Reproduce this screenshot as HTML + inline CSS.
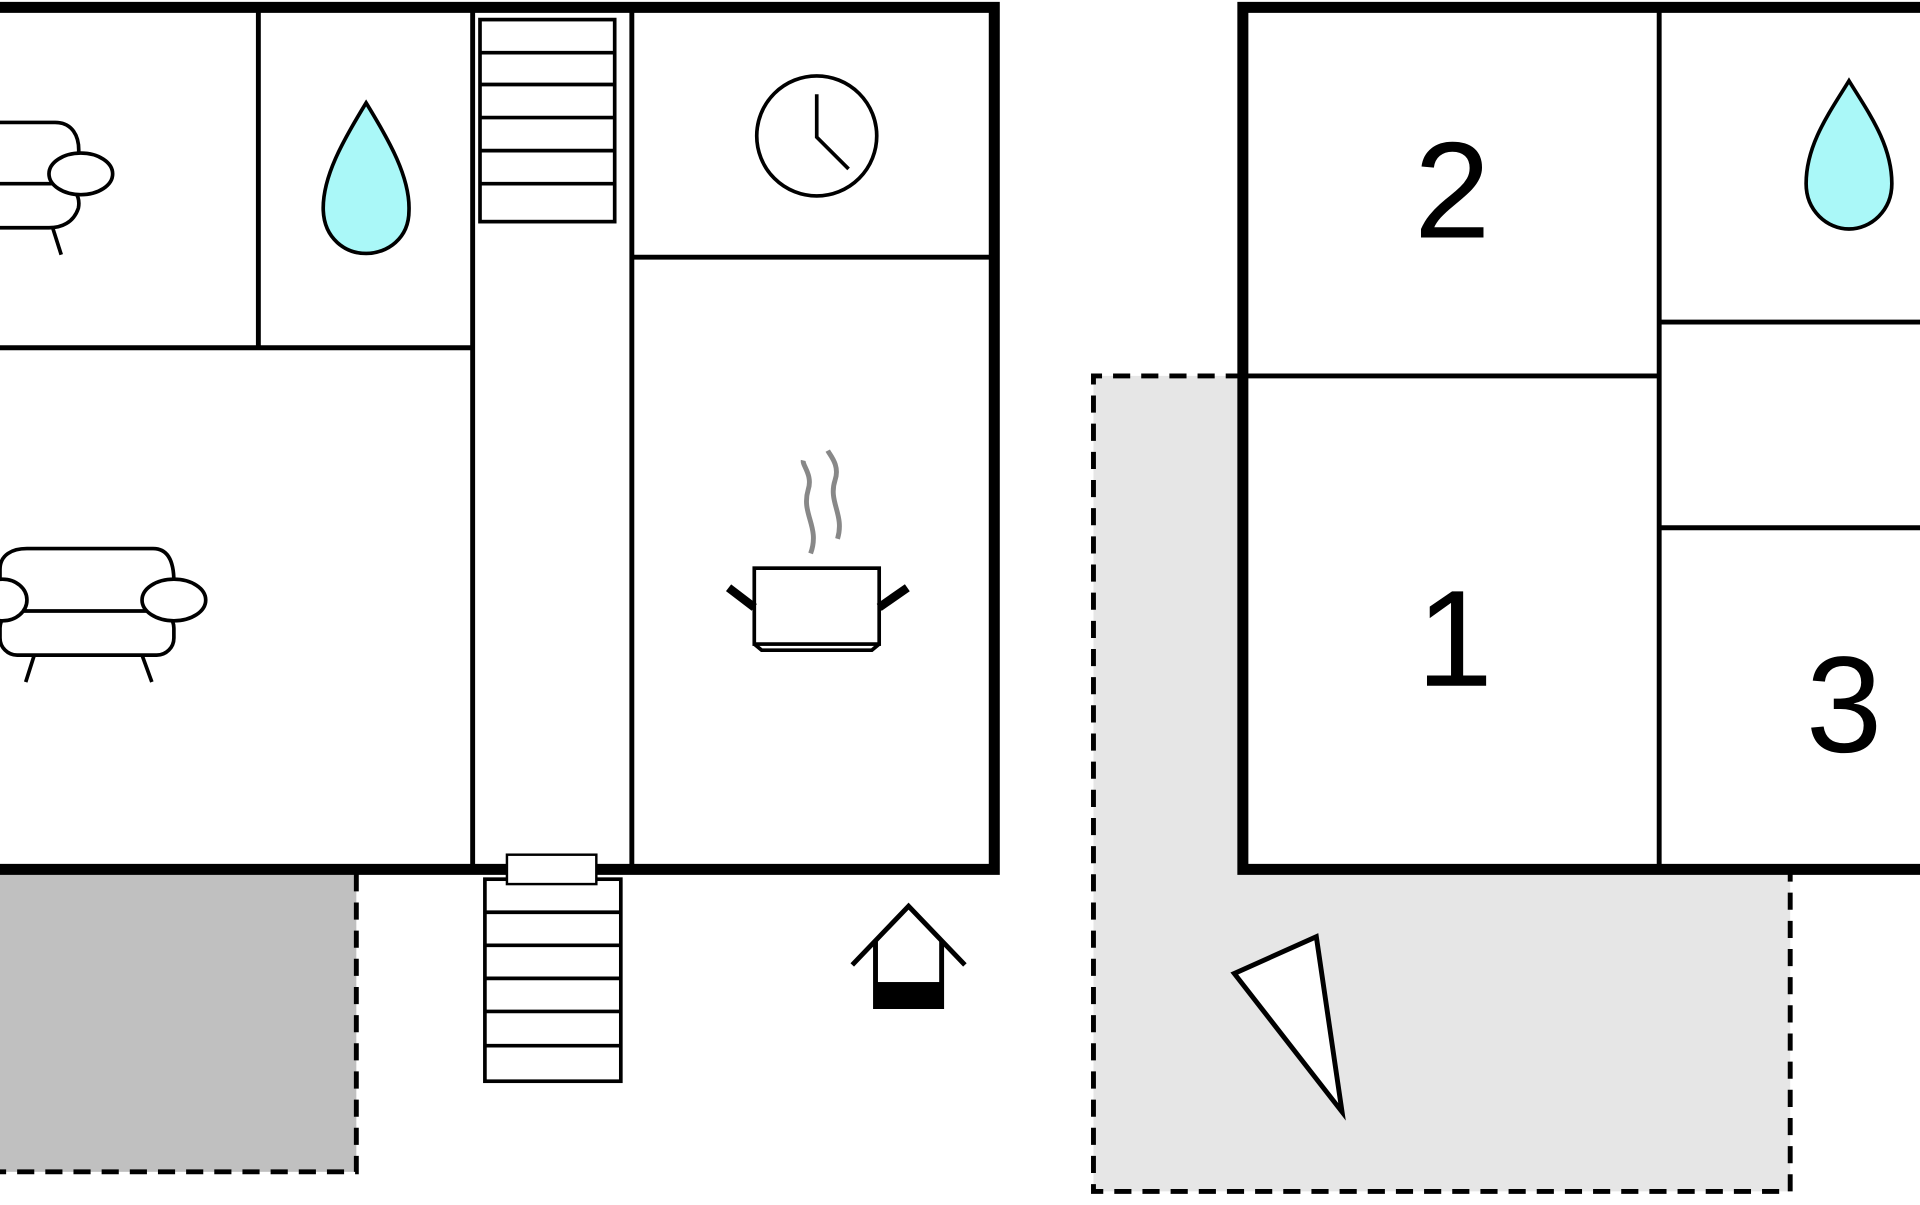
<!DOCTYPE html>
<html><head><meta charset="utf-8"><style>html,body{margin:0;padding:0;background:#fff;overflow:hidden}</style></head>
<body>
<svg width="1920" height="1200" viewBox="0 0 1568 980" xmlns="http://www.w3.org/2000/svg">
<rect width="1568" height="980" fill="#fff"/>
<!-- light gray terrace -->
<path d="M893,307 L1015,307 L1015,714 L1462,714 L1462,973 L893,973 Z" fill="#e6e6e6"/>
<path d="M1015,307 L893,307 L893,973 L1462,973 L1462,714" fill="none" stroke="#000" stroke-width="4" stroke-dasharray="14,9"/>
<!-- dark gray terrace -->
<rect x="-5" y="714" width="296" height="243" fill="#c0c0c0"/>
<path d="M291,714 L291,957 L-5,957" fill="none" stroke="#000" stroke-width="4" stroke-dasharray="14,9"/>
<!-- left building -->
<g stroke="#000" fill="none">
<path d="M-10,6 L812,6 L812,710 L-10,710" stroke-width="9"/>
<line x1="211" y1="6" x2="211" y2="284" stroke-width="4"/>
<line x1="-10" y1="284" x2="386" y2="284" stroke-width="4"/>
<line x1="386" y1="6" x2="386" y2="710" stroke-width="4"/>
<line x1="516" y1="6" x2="516" y2="710" stroke-width="4"/>
<line x1="516" y1="210" x2="812" y2="210" stroke-width="4"/>
<!-- top stairs -->
<rect x="392" y="16" width="110" height="165" fill="#fff" stroke-width="3"/>
<path d="M392,43H502M392,69H502M392,96H502M392,123H502M392,150H502" stroke-width="3"/>
<!-- bottom stairs -->
<rect x="396" y="718" width="111" height="165" fill="#fff" stroke-width="3"/>
<path d="M396,745H507M396,772H507M396,799H507M396,826H507M396,854H507" stroke-width="3"/>
<rect x="414" y="698" width="73" height="24" fill="#fff" stroke-width="2"/>
<!-- right building -->
<path d="M1580,6 L1015,6 L1015,710 L1580,710" stroke-width="9"/>
<line x1="1355" y1="6" x2="1355" y2="710" stroke-width="4"/>
<line x1="1015" y1="307" x2="1355" y2="307" stroke-width="4"/>
<line x1="1355" y1="263" x2="1580" y2="263" stroke-width="4"/>
<line x1="1355" y1="431" x2="1580" y2="431" stroke-width="4"/>
<!-- triangle -->
<polygon points="1008,795 1075,765 1096,908" fill="#fff" stroke-width="4"/>
<!-- drops -->
<path d="M299,84 C280,115 263,145 264,172 C265,195 282,207 299,207 C316,207 334,195 334,172 C335,145 318,115 299,84 Z" fill="#aaf8f8" stroke-width="3"/>
<path d="M1510,66 C1494,92 1475,118 1475,150 C1475,172 1492,187 1510,187 C1528,187 1545,172 1545,150 C1545,118 1526,92 1510,66 Z" fill="#aaf8f8" stroke-width="3"/>
<!-- clock -->
<circle cx="667" cy="111" r="49" stroke-width="3"/>
<path d="M667,77 L667,112 L693,138" stroke-width="3"/>
<!-- pot -->
<rect x="616" y="464" width="102" height="62" fill="#fff" stroke-width="3"/>
<path d="M616,526 L622,531 L712,531 L718,526" stroke-width="3"/>
<path d="M616,496 L595,480 M718,496 L741,480" stroke-width="7"/>
<path d="M662,452 C670,430 654,420 660,400 C664,388 655,380 656,376 M684,440 C690,420 676,410 682,392 C686,380 678,372 676,368" stroke="#888" stroke-width="4"/>
<!-- sofa big -->
<path d="M0,495 L0,465 C0,453 10,448 22,448 L125,448 C137,448 142,458 142,475" stroke-width="3"/>
<rect x="0" y="499" width="142" height="36" rx="14" stroke-width="3"/>
<ellipse cx="142" cy="490" rx="26" ry="17" fill="#fff" stroke-width="3"/>
<ellipse cx="2" cy="490" rx="20" ry="17" fill="#fff" stroke-width="3"/>
<path d="M28,535 L21,557 M116,535 L124,557" stroke-width="3"/>
<!-- sofa small -->
<path d="M0,100 L45,100 C58,100 66,110 64,128 M0,150 L50,150 C60,152 66,160 64,170 C60,182 50,186 40,186 L0,186" stroke-width="3"/>
<ellipse cx="66" cy="142" rx="26" ry="17" fill="#fff" stroke-width="3"/>
<path d="M43,186 L50,208" stroke-width="3"/>
<!-- house icon -->
<path d="M696,788 L742,740 L788,788" stroke-width="4"/>
<path d="M715,768 L715,822 L769,822 L769,768" stroke-width="4"/>
</g>
<rect x="715" y="802" width="54" height="21" fill="#000"/>
<g font-family="Liberation Sans, sans-serif" font-size="112" fill="#000" text-anchor="middle">
<text x="1186" y="194">2</text>
<text x="1188" y="560">1</text>
<text x="1506" y="614">3</text>
</g>
</svg>
</body></html>
